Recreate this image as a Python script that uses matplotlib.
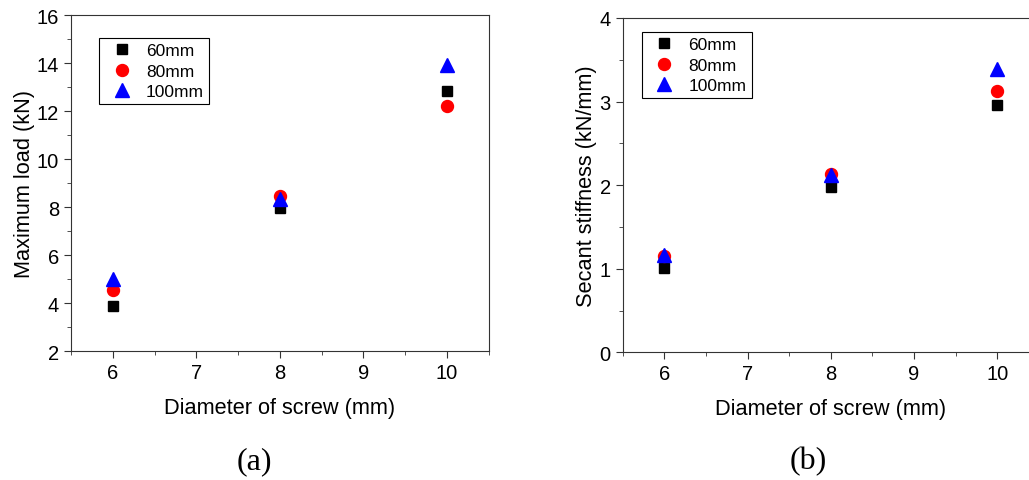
import numpy as np
import matplotlib.pyplot as plt
from matplotlib.ticker import MultipleLocator

plt.rcParams['font.family'] = ['Liberation Sans', 'DejaVu Sans']

diameter = [6, 8, 10]
series = ["60mm", "80mm", "100mm"]

# (a) maximum load, kN
load = {
    "60mm": [3.87, 7.95, 12.85],
    "80mm": [4.56, 8.47, 12.23],
    "100mm": [5.0, 8.32, 13.93],
}
# (b) secant stiffness, kN/mm
stiff = {
    "60mm": [1.01, 1.98, 2.96],
    "80mm": [1.15, 2.13, 3.13],
    "100mm": [1.17, 2.12, 3.39],
}

styles = {
    "60mm": dict(marker="s", color="black", ms=7.2),
    "80mm": dict(marker="o", color="red", ms=8.6),
    "100mm": dict(marker="^", color="blue", ms=9.5),
}

fig = plt.figure(figsize=(10.29, 4.81), dpi=100)
ax1 = fig.add_axes([0.069, 0.268, 0.406, 0.6985])
ax2 = fig.add_axes([0.605, 0.2655, 0.4048, 0.695])

def draw(ax, data, ylim, ymaj, ylabel, leg_xy):
    for s in series:
        ax.plot(diameter, data[s], linestyle="none", label=s, **styles[s])
    ax.set_xlim(5.5, 10.5)
    ax.set_ylim(*ylim)
    ax.xaxis.set_major_locator(MultipleLocator(1))
    ax.xaxis.set_minor_locator(MultipleLocator(0.5))
    ax.yaxis.set_major_locator(MultipleLocator(ymaj))
    ax.yaxis.set_minor_locator(MultipleLocator(ymaj / 2))
    ax.tick_params(which="both", direction="out", labelsize=14.5, color="#333333")
    ax.tick_params(which="major", length=5)
    ax.tick_params(which="minor", length=3)
    for sp in ax.spines.values():
        sp.set_color("#333333")
    ax.set_xlabel("Diameter of screw (mm)", fontsize=15.7, labelpad=11)
    ax.set_ylabel(ylabel, fontsize=15.7, labelpad=1.5)
    leg = ax.legend(loc="upper left", bbox_to_anchor=leg_xy, borderaxespad=0,
                    fancybox=False, edgecolor="black", framealpha=1,
                    fontsize=12.5, handlelength=2.0, handletextpad=0.4,
                    labelspacing=0.29, borderpad=0.3)
    leg.get_frame().set_linewidth(0.8)

draw(ax1, load, (2, 16), 2, "Maximum load (kN)", (0.067, 0.9315))
draw(ax2, stiff, (0, 4), 1, "Secant stiffness (kN/mm)", (0.0456, 0.958))

fig.text(254 / 1029, 1 - 462 / 481, "(a)", family="Liberation Serif",
         fontsize=23, ha="center", va="center")
fig.text(808 / 1029, 1 - 462 / 481, "(b)", family="Liberation Serif",
         fontsize=23, ha="center", va="center")

plt.savefig("out.png")
